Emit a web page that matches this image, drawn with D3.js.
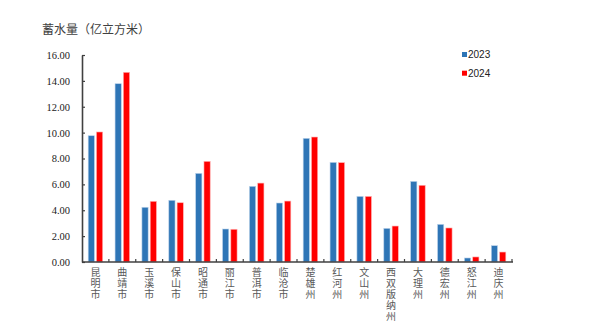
<!DOCTYPE html>
<html>
<head>
<meta charset="utf-8">
<script src="https://cdn.jsdelivr.net/npm/d3@7/dist/d3.min.js"></script>
<style>
  html, body { margin: 0; padding: 0; background: #fff; }
  svg { display: block; }
</style>
</head>
<body>
<svg id="chart" width="600" height="329"></svg>
<script>
// Reservoir storage by prefecture (100 million m³)
const categories = ["昆明市","曲靖市","玉溪市","保山市","昭通市","丽江市","普洱市","临沧市",
  "楚雄州","红河州","文山州","西双版纳州","大理州","德宏州","怒江州","迪庆州"];
const seriesNames = ["2023", "2024"];
const values2023 = [9.76, 13.78, 4.23, 4.77, 6.85, 2.55, 5.85, 4.56, 9.56, 7.70, 5.07, 2.60, 6.23, 2.91, 0.31, 1.26];
const values2024 = [10.05, 14.66, 4.69, 4.58, 7.78, 2.53, 6.10, 4.71, 9.66, 7.68, 5.07, 2.78, 5.93, 2.63, 0.39, 0.77];
const yTicks = [0, 2, 4, 6, 8, 10, 12, 14, 16];
const colors = ["#2E75B6", "#FF0000"];

const svg = d3.select("#chart");
const plotLeft = 82, plotRight = 512, plotTop = 55, plotBottom = 262;

const x = d3.scaleBand().domain(categories).range([plotLeft, plotRight]).padding(0);
const bw = x.bandwidth();
const xSub = d3.scaleBand().domain(seriesNames)
  .range([bw * 0.23, bw * 0.77]).paddingInner(0.25);
const y = d3.scaleLinear().domain([0, 16]).range([plotBottom, plotTop]);

// Title / unit
svg.append("text")
  .attr("x", 42).attr("y", 34)
  .attr("font-family", "'Noto Sans CJK SC', sans-serif")
  .attr("font-size", 12)
  .attr("fill", "#404040")
  .text("蓄水量（亿立方米）");

// Bars
const rows = categories.map((c, i) => ({ c, vals: [values2023[i], values2024[i]] }));
const g = svg.append("g");
rows.forEach(r => {
  r.vals.forEach((v, k) => {
    g.append("rect")
      .attr("x", x(r.c) + xSub(seriesNames[k]))
      .attr("y", y(v))
      .attr("width", xSub.bandwidth())
      .attr("height", y(0) - y(v))
      .attr("fill", colors[k])
      .attr("stroke", k === 0 ? "#bcd3ea" : "#ffb3b3")
      .attr("stroke-width", 0.6);
  });
});

// Y axis
const yAxis = d3.axisLeft(y).tickValues(yTicks).tickFormat(d3.format(".2f"))
  .tickSizeInner(-3).tickSizeOuter(0).tickPadding(12);
const yg = svg.append("g").attr("transform", `translate(${plotLeft},0)`).call(yAxis);
yg.select(".domain").attr("stroke", "#404040").attr("stroke-width", 1.6);
yg.selectAll(".tick line").attr("stroke", "#404040").attr("stroke-width", 1.2);
yg.selectAll(".tick text")
  .attr("font-family", "'Liberation Serif', 'Times New Roman', serif")
  .attr("font-size", 10.5)
  .attr("fill", "#222");

// X axis line with inward ticks at band boundaries
const xg = svg.append("g");
xg.append("line")
  .attr("x1", plotLeft).attr("x2", plotRight + 1)
  .attr("y1", plotBottom).attr("y2", plotBottom)
  .attr("stroke", "#404040").attr("stroke-width", 1.6);
categories.forEach(c => {
  const bx = x(c) + bw;
  xg.append("line")
    .attr("x1", bx).attr("x2", bx)
    .attr("y1", plotBottom).attr("y2", plotBottom - 3)
    .attr("stroke", "#404040").attr("stroke-width", 1.2);
});

// Category labels, set in vertical writing mode
categories.forEach(c => {
  svg.append("text")
    .attr("x", x(c) + bw / 2)
    .attr("y", 267)
    .attr("font-family", "'Noto Sans CJK SC', sans-serif")
    .attr("font-size", 10)
    .attr("fill", "#595959")
    .style("writing-mode", "vertical-rl")
    .style("text-orientation", "upright")
    .style("letter-spacing", "1px")
    .text(c);
});

// Legend
const lg = svg.append("g");
seriesNames.forEach((s, i) => {
  const ly = 54.5 + i * 18.7;
  lg.append("rect")
    .attr("x", 462).attr("y", ly - 2.5)
    .attr("width", 5).attr("height", 5)
    .attr("fill", colors[i]);
  lg.append("text")
    .attr("x", 468).attr("y", ly + 3.5)
    .attr("font-family", "'Liberation Sans', Arial, sans-serif")
    .attr("font-size", 10)
    .attr("fill", "#222")
    .text(s);
});
</script>
</body>
</html>
